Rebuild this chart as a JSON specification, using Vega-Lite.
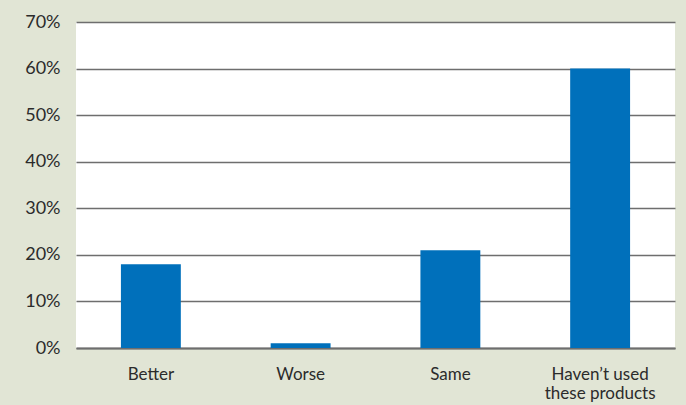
{
  "$schema": "https://vega.github.io/schema/vega-lite/v6.json",
  "width": 599,
  "height": 326,
  "autosize": {"type": "none"},
  "padding": {"left": 76, "top": 22, "right": 11, "bottom": 57},
  "background": "#e1e5d5",
  "config": {
    "view": {"fill": "white", "stroke": null},
    "font": "Lato"
  },
  "data": {
    "values": [
      {"category": "Better", "share": 0.18},
      {"category": "Worse", "share": 0.01},
      {"category": "Same", "share": 0.21},
      {"category": "Haven’t used these products", "share": 0.60}
    ]
  },
  "mark": {"type": "bar", "color": "#0070bb"},
  "encoding": {
    "x": {
      "field": "category",
      "type": "nominal",
      "sort": null,
      "title": null,
      "scale": {"paddingInner": 0.6, "paddingOuter": 0.3},
      "axis": {
        "labelAngle": 0,
        "ticks": false,
        "domain": true,
        "domainColor": "#6e6e6e",
        "domainWidth": 2,
        "labelFontSize": 17,
        "labelColor": "#2b2b2b",
        "labelPadding": 18,
        "labelLineHeight": 19,
        "labelExpr": "datum.value == 'Haven’t used these products' ? ['Haven’t used', 'these products'] : datum.value"
      }
    },
    "y": {
      "field": "share",
      "type": "quantitative",
      "title": null,
      "scale": {"domain": [0, 0.7]},
      "axis": {
        "format": ".0%",
        "values": [0, 0.1, 0.2, 0.3, 0.4, 0.5, 0.6, 0.7],
        "ticks": false,
        "domain": false,
        "grid": true,
        "gridColor": "#6e6e6e",
        "gridWidth": 1.5,
        "labelFontSize": 18,
        "labelColor": "#2b2b2b",
        "labelPadding": 16
      }
    }
  }
}
